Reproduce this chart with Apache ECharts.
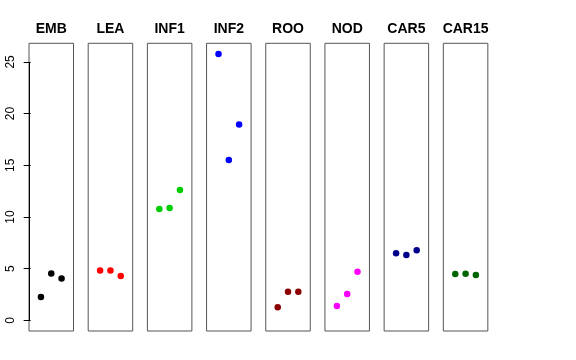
<!DOCTYPE html>
<html>
<head>
<meta charset="utf-8">
<script src="https://cdn.jsdelivr.net/npm/echarts@6/dist/echarts.min.js"></script>
<style>html,body{margin:0;padding:0;background:#fff}#c{width:576px;height:360px}</style>
</head>
<body>
<div id="c"></div>
<script>
const panels = ["EMB", "LEA", "INF1", "INF2", "ROO", "NOD", "CAR5", "CAR15"];
const xs = [1, 2, 3];
const EMB = [2.25, 4.54, 4.06];
const LEA = [4.83, 4.83, 4.28];
const INF1 = [10.76, 10.86, 12.6];
const INF2 = [25.77, 15.5, 18.95];
const ROO = [1.26, 2.77, 2.77];
const NOD = [1.38, 2.54, 4.7];
const CAR5 = [6.48, 6.31, 6.77];
const CAR15 = [4.48, 4.5, 4.38];
const yTicks = [0, 5, 10, 15, 20, 25];
const values = [EMB, LEA, INF1, INF2, ROO, NOD, CAR5, CAR15];
const colors = ["#000000", "#FF0000", "#00CD00", "#0000FF", "#8B0000", "#FF00FF", "#00008B", "#006400"];

const yMax = Math.max(...values.flat());
const yMin = 0;
const yPad = (yMax - yMin) * 0.04;
const xPad = 4 * 0.04;

const gLeft0 = 29, gStep = 59.19, gW = 44.5, gTop = 43.3, gH = 287.7;
const grid = [], xAxis = [], yAxis = [], series = [], title = [];
panels.forEach((p, i) => {
  grid.push({left: gLeft0 + gStep * i, top: gTop, width: gW, height: gH, show: true,
    borderColor: '#555', borderWidth: 1, backgroundColor: 'transparent', containLabel: false});
  xAxis.push({type: 'value', gridIndex: i, min: 0 - xPad, max: 4 + xPad,
    show: false, splitLine: {show: false}});
  yAxis.push({type: 'value', gridIndex: i, min: yMin - yPad, max: yMax + yPad,
    show: i === 0,
    axisLine: {show: false},
    splitLine: {show: false},
    axisTick: {show: true, length: 7, customValues: yTicks, lineStyle: {color: '#000', width: 1}},
    axisLabel: {show: true, customValues: yTicks, rotate: 90, margin: 12,
      fontFamily: 'Liberation Sans, Arial, sans-serif', fontSize: 12, color: '#000'}
  });
  const s = {type: 'scatter', xAxisIndex: i, yAxisIndex: i,
    data: xs.map((x, k) => [x, values[i][k]]),
    symbolSize: 6.5, itemStyle: {color: colors[i], opacity: 1},
    silent: true, animation: false};
  if (i === 0) {
    s.markLine = {silent: true, symbol: 'none', animation: false,
      lineStyle: {color: '#000', width: 1, type: 'solid'}, label: {show: false},
      data: [[{coord: [0 - xPad, yTicks[0]]}, {coord: [0 - xPad, yTicks[yTicks.length - 1]]}]]};
  }
  series.push(s);
  title.push({text: p, left: gLeft0 + gStep * i + gW / 2, top: 22, padding: 0, textAlign: 'center',
    textStyle: {fontFamily: 'Liberation Sans, Arial, sans-serif', fontSize: 14, fontWeight: 'bold', color: '#000'}});
});

const chart = echarts.init(document.getElementById('c'), null, {renderer: 'canvas'});
chart.setOption({animation: false, backgroundColor: '#fff', title, grid, xAxis, yAxis, series});
</script>
</body>
</html>
